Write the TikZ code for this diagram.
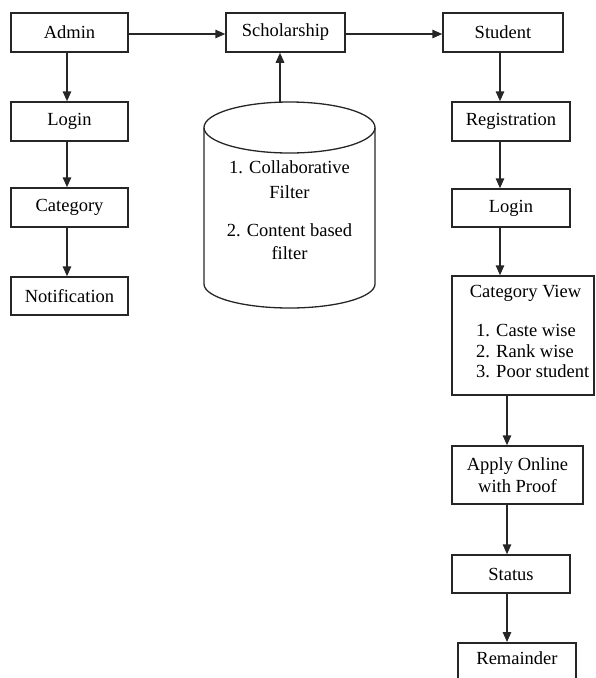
\documentclass[tikz,border=0pt]{standalone}
\usepackage{fontspec}
\setmainfont{Liberation Serif}
\usetikzlibrary{arrows.meta}
\begin{document}
\begin{tikzpicture}[x=1pt,y=-1pt,
  box/.style={draw=black!85, line width=1.5pt, fill=white, inner sep=0pt,
    font=\fontsize{18.5}{22}\selectfont, align=center},
  arr/.style={line width=1.5pt, draw=black!85, -{Triangle[length=10pt,width=8.5pt]}},
  txt/.style={inner sep=0pt, align=center, font=\fontsize{18.5}{24}\selectfont}]
\useasboundingbox (0,0) rectangle (595,678);
% left column
\node[box, minimum width=117pt, minimum height=39pt] (admin) at (69.5,32.5) {Admin};
\node[box, minimum width=117pt, minimum height=39pt] (loginl) at (69.5,121.5) {Login};
\node[box, minimum width=117pt, minimum height=39pt] (cat) at (69.5,207.5) {Category};
\node[box, minimum width=117pt, minimum height=38pt] (notif) at (69.5,296) {Notification};
% top middle / right
\node[box, minimum width=119pt, minimum height=39pt] (schol) at (285.5,32.5) {Scholarship};
\node[box, minimum width=120pt, minimum height=39pt] (stud) at (503,32.5) {Student};
% right column
\node[box, minimum width=118pt, minimum height=39pt] (reg) at (511,121.5) {Registration};
\node[box, minimum width=118pt, minimum height=38pt] (loginr) at (511,208) {Login};
\node[box, minimum width=142pt, minimum height=119pt] (catv) at (523,335.5) {};
\node[txt] (catvt) at (525.5,293) {Category View};
\node[inner sep=0pt, align=left, anchor=west, font=\fontsize{18.5}{20.5}\selectfont] (catvl) at (476,351) {1. Caste wise\\2. Rank wise\\3. Poor student};
\node[box, minimum width=131pt, minimum height=58pt, font=\fontsize{18.5}{22}\selectfont] (apply) at (517.5,475) {Apply Online\\with Proof};
\node[box, minimum width=118pt, minimum height=38pt] (status) at (511,574) {Status};
\node[box, minimum width=118pt, minimum height=40pt, anchor=north] (rem) at (517,642) {};
\node[txt] (remt) at (517,658) {Remainder};
% cylinder
\draw[line width=1.3pt, draw=black!85] (289.5,127.5) ellipse [x radius=85.5, y radius=25.5];
\draw[line width=1.3pt, draw=black!85] (204,127.5) -- (204,284) arc[start angle=180, end angle=360, x radius=85.5, y radius=-24] -- (375,127.5);
\coordinate (dbtop) at (280,102);
\node[txt, font=\fontsize{18.5}{25}\selectfont] (f1) at (289.5,179.5) {1. Collaborative\\Filter};
\node[txt, font=\fontsize{18.5}{23}\selectfont] (f2) at (289.5,241.5) {2. Content based\\filter};
% connector lines
\coordinate (cl) at (67,0);
\coordinate (cr) at (500,0);
\coordinate (cb) at (507,0);
\coordinate (ct) at (0,34);
% connectors
\draw[arr] (admin.east |- ct) -- (schol.west |- ct);
\draw[arr] (schol.east |- ct) -- (stud.west |- ct);
\draw[arr] (dbtop) -- (schol.south -| dbtop);
\draw[arr] (admin.south -| cl) -- (loginl.north -| cl);
\draw[arr] (loginl.south -| cl) -- (cat.north -| cl);
\draw[arr] (cat.south -| cl) -- (notif.north -| cl);
\draw[arr] (stud.south -| cr) -- (reg.north -| cr);
\draw[arr] (reg.south -| cr) -- (loginr.north -| cr);
\draw[arr] (loginr.south -| cr) -- (catv.north -| cr);
\draw[arr] (catv.south -| cb) -- (apply.north -| cb);
\draw[arr] (apply.south -| cb) -- (status.north -| cb);
\draw[arr] (status.south -| cb) -- (rem.north -| cb);
\end{tikzpicture}
\end{document}
